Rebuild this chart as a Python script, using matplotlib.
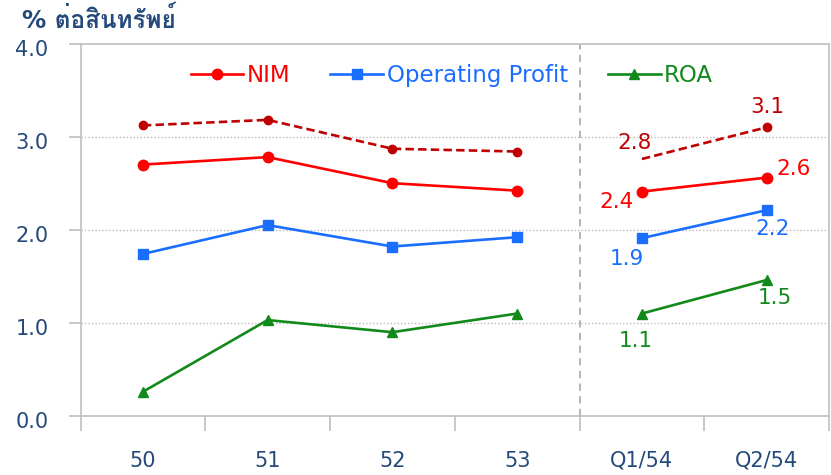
import matplotlib
matplotlib.use("Agg")
import matplotlib.pyplot as plt
import matplotlib.transforms as mtransforms
import numpy as np

categories = ['50', '51', '52', '53', 'Q1/54', 'Q2/54']
nim = [2.70, 2.78, 2.50, 2.42, 2.41, 2.56]
nim_dashed = [3.12, 3.18, 2.87, 2.84, 2.76, 3.10]
op_profit = [1.74, 2.05, 1.82, 1.92, 1.91, 2.21]
roa = [0.26, 1.03, 0.90, 1.10, 1.10, 1.46]
y_ticks = [0.0, 1.0, 2.0, 3.0, 4.0]
title_text = '% ต่อสินทรัพย์'

FONT = ['DejaVu Sans', 'Loma']
plt.rcParams['font.family'] = FONT
TXT = '#24497A'
C_NIM = '#FF0000'
C_DASH = '#C00000'
C_OP = '#1A6EFF'
C_ROA = '#118A1A'
GRAY = '#BFBFBF'

fig = plt.figure(figsize=(8.31, 4.75), dpi=100)
ax = fig.add_axes([80.5 / 831, 1 - 416 / 475, (829.0 - 80.5) / 831, (416 - 43.5) / 475])

x = np.arange(len(categories))
left = slice(0, 4)
right = slice(4, 6)

lw = 1.9
dash = (0, (3.2, 1.6))
ax.plot(x[left], nim_dashed[left], color=C_DASH, lw=lw, ls=dash, marker='o', ms=6, zorder=3)
ax.plot(x[right], nim_dashed[right], color=C_DASH, lw=lw, ls=dash, zorder=3)
ax.plot(x[5:6], nim_dashed[5:6], color=C_DASH, marker='o', ms=6, ls='none', zorder=3)

l_nim, = ax.plot(x[left], nim[left], color=C_NIM, lw=lw, marker='o', ms=7.5, zorder=4, label='NIM')
ax.plot(x[right], nim[right], color=C_NIM, lw=lw, marker='o', ms=7.5, zorder=4)
l_op, = ax.plot(x[left], op_profit[left], color=C_OP, lw=lw, marker='s', ms=7, zorder=4, label='Operating Profit')
ax.plot(x[right], op_profit[right], color=C_OP, lw=lw, marker='s', ms=7, zorder=4)
l_roa, = ax.plot(x[left], roa[left], color=C_ROA, lw=lw, marker='^', ms=7, zorder=4, label='ROA')
ax.plot(x[right], roa[right], color=C_ROA, lw=lw, marker='^', ms=7, zorder=4)

fs_lab = 15.5
def lab(xi, vals, color, dx, dy):
    v = vals[xi]
    ax.annotate(f'{v:.1f}', (x[xi], v), xytext=(dx, dy), textcoords='offset pixels',
                ha='center', va='center', color=color, fontsize=fs_lab)

lab(4, nim_dashed, C_DASH, -7, 16)
lab(5, nim_dashed, C_DASH, 1, 20)
lab(4, nim, C_NIM, -25, -10)
lab(5, nim, C_NIM, 27, 9)
lab(4, op_profit, C_OP, -15, -21)
lab(5, op_profit, C_OP, 6, -19)
lab(4, roa, C_ROA, -6, -27)
lab(5, roa, C_ROA, 8, -18)

ax.axvline(3.5, color='#B0B0B0', lw=1.3, ls=(0, (4, 3)), zorder=1)

ax.set_xlim(-0.5, 5.5)
ax.set_ylim(0, 4)
ax.set_yticks(y_ticks)
ax.set_yticklabels([f'{t:.1f}' for t in y_ticks])
ax.set_xticks(x)
ax.set_xticklabels(categories)
ax.set_xticks(np.arange(-0.5, 6, 1), minor=True)
ax.tick_params(axis='x', which='major', length=0, pad=25, labelsize=15, labelcolor=TXT)
ax.tick_params(axis='x', which='minor', length=11, width=1.2, color=GRAY, direction='out')
ax.tick_params(axis='y', length=9, width=1.2, color=GRAY, pad=14, labelsize=15, labelcolor=TXT)

off = mtransforms.ScaledTranslation(0, -4 / 100, fig.dpi_scale_trans)
for t in ax.get_yticklabels():
    t.set_transform(t.get_transform() + off)

for yv in [1.0, 2.0, 3.0]:
    ax.axhline(yv, color='#BBBBBB', lw=1.0, ls=(0, (1, 1.5)), zorder=0)

for s in ['left', 'bottom', 'top', 'right']:
    ax.spines[s].set_color(GRAY)
    ax.spines[s].set_linewidth(1.2)

leg = ax.legend(handles=[l_nim, l_op, l_roa], ncol=3, loc='center',
                bbox_to_anchor=(0.496, 0.914), frameon=False, fontsize=16.5,
                handlelength=2.3, handletextpad=0.15, columnspacing=1.75, borderaxespad=0)
for t, c in zip(leg.get_texts(), [C_NIM, C_OP, C_ROA]):
    t.set_color(c)

fig.text(22 / 831, 1 - 20 / 475, title_text, ha='left', va='center', fontsize=17.5,
         fontweight='bold', color=TXT, family=FONT)

fig.savefig('out.png', dpi=100)
